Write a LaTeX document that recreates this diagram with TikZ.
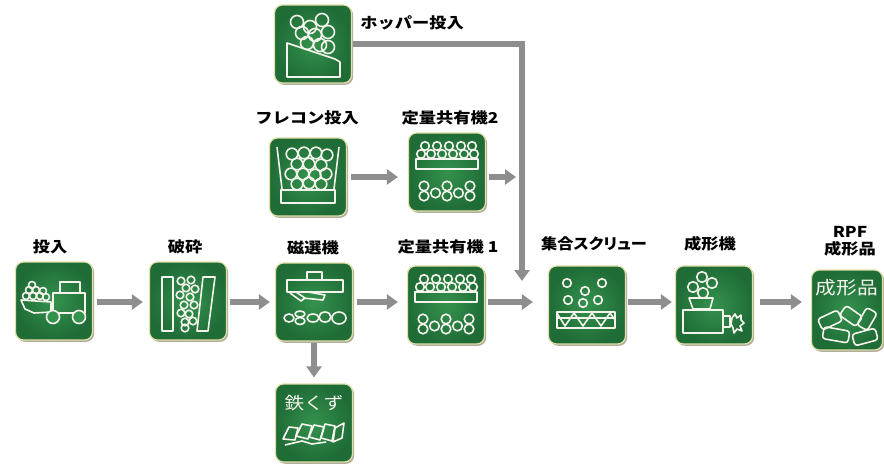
\documentclass[tikz,border=0pt]{standalone}
\usepackage{fontspec}
\usetikzlibrary{arrows.meta}
\newfontfamily\jpfont[FakeStretch=1.15]{Noto Sans CJK JP}
\newfontfamily\jpprop[FakeStretch=1.08, RawFeature=+palt]{Noto Sans CJK JP}

\definecolor{flowgray}{HTML}{8E8E8E}
\definecolor{panelin}{HTML}{34924D}
\definecolor{panelout}{HTML}{1F6C37}
\definecolor{panelrim}{HTML}{E2DFA8}
\definecolor{panelshade}{HTML}{6E6A4A}
\definecolor{inkwhite}{HTML}{F4F4EC}

\tikzset{
  panel/.style={rounded corners=8pt, inner sep=0pt,
    inner color=panelin, outer color=panelout,
    draw=panelrim, line width=1.2pt,
    minimum width=77pt, minimum height=78pt,
    preaction={fill=panelshade, opacity=0.55,
      transform canvas={shift={(1.6pt,-1.8pt)}}}},
  lbl/.style={font=\jpfont\bfseries\fontsize{15}{16}\selectfont, inner sep=0pt},
  intext/.style={font=\jpfont\fontsize{17}{18}\selectfont, text=inkwhite, inner sep=0pt},
  ink/.style={draw=inkwhite, line width=1.6pt, line join=round},
  flow/.style={draw=flowgray, line width=5.5pt,
    -{Triangle[width=15pt,length=11pt]}, shorten <=4pt, shorten >=6pt},
}

\begin{document}
\begin{tikzpicture}[x=1pt,y=-1pt]
\useasboundingbox[fill=white] (0,0) rectangle (884,464);

% ---------- panels ----------
\node[panel] (feed)  at (54,301)  {};
\node[panel] (crush) at (188,301) {};
\node[panel] (mag)   at (314,302) {};
\node[panel] (qa)    at (446,305) {};
\node[panel] (screw) at (587,305) {};
\node[panel] (mold)  at (714,305) {};
\node[panel, minimum width=71pt, minimum height=80pt] (rpf) at (847,310) {};
\node[panel] (scrap) at (314,423) {};
\node[panel] (hop)   at (313,44)  {};
\node[panel] (flc)   at (308,177) {};
\node[panel] (qb)    at (447,172) {};

% ---------- labels ----------
\node[lbl] (feed-l)  at (50,247)  {投入};
\node[lbl] (crush-l) at (185,247) {破砕};
\node[lbl] (mag-l)   at (313,248) {磁選機};
\node[lbl] (qa-l)    at (448,247) {定量共有機 1};
\node[lbl, font=\jpprop\bfseries\fontsize{15}{16}\selectfont] (screw-l) at (594,244) {集合スクリュー};
\node[lbl] (mold-l)  at (710,244) {成形機};
\node[lbl] (rpf-l1)  at (850,232) {RPF};
\node[lbl] (rpf-l2)  at (850,249) {成形品};
\node[lbl] (hop-l)   at (412,23)  {ホッパー投入};
\node[lbl] (flc-l)   at (307,118) {フレコン投入};
\node[lbl] (qb-l)    at (450,118) {定量共有機2};

% ---------- connectors ----------
\coordinate (row)   at (0,302);
\coordinate (stub)  at (516,177);
\coordinate (merge) at (522,281);
\draw[flow] (feed.east |- row) -- (crush.west |- row);
\draw[flow, shorten <=3pt, shorten >=5pt] (crush.east |- row) -- (mag.west |- row);
\draw[flow, shorten >=9pt] (mag.east |- row) -- (qa.west |- row);
\draw[flow, shorten <=3pt, shorten >=15pt] (qa.east |- row) -- (screw.west |- row);
\draw[flow, shorten <=2pt, shorten >=3pt] (screw.east |- row) -- (mold.west |- row);
\draw[flow, shorten <=7pt, shorten >=9pt] (mold.east |- row) -- (rpf.west |- row);
\draw[flow, shorten <=1pt] (mag) -- (scrap);
\draw[flow, shorten >=10pt] (flc.east |- 0,177) -- (qb.west |- 0,177);
\draw[flow, shorten <=3pt, shorten >=0pt] (qb.east |- stub) -- (stub);
\draw[flow, shorten <=1pt, shorten >=0pt] (hop.east) -| (merge);

% ---------- icons ----------
% loader
\begin{scope}[shift={(feed.center)}, ink]
  \draw (6,-19) rectangle (26,-8);
  \draw (-1,-8) rectangle (31,12);
  \draw (-33,-1) -- (-29,8) -- (-20,12) -- (-3,11) -- (-3,1) -- cycle;
  \draw (-3,5) -- (-1,5);
  \foreach \p in {(-28,-5),(-21,-5),(-14,-5),(-8,-4),(-25,-11),(-18,-11),(-11,-10),(-22,-16)}
    \draw \p circle (3.5);
  \draw[fill=panelin] (-1,16) circle (6.5);
  \draw[fill=panelin] (25,16) circle (6.5);
\end{scope}

% crusher
\begin{scope}[shift={(crush.center)}, ink]
  \draw (-26,-24) rectangle (-15,30);
  \draw (15,-24) -- (27,-24) -- (20,30) -- (9,30) -- cycle;
  \foreach \p in {(-7,-20),(3,-21),(-2,-13),(7,-12),(-8,-6),(2,-4),(-4,4),(6,4),(-7,12),(1,13),(-3,21),(5,20),(-3,27)}
    \draw \p circle (3.8);
\end{scope}

% magnetic separator
\begin{scope}[shift={(mag.center)}, ink]
  \draw (-7,-30) rectangle (8,-22);
  \draw (-27,-22) rectangle (29,-10);
  \draw (-24,-9) -- (-13,-1) -- (-9,-4) -- (-18,-10);
  \draw (-11,-4) -- (9,-2) -- (11,-7) -- (-6,-10);
  \draw (-25,16) ellipse (5 and 4);
  \draw (-14,12) ellipse (5 and 3);
  \draw (-14,19) ellipse (5 and 3.5);
  \draw (-1,16) ellipse (6 and 4);
  \draw (11,15) ellipse (6 and 5);
  \draw (25,16) ellipse (7 and 6);
\end{scope}

% metering feeders 1 and 2
\foreach \q in {qa,qb}{
\begin{scope}[shift={(\q.center)}, ink]
  \foreach \x in {-22,-10,2,14,25} \draw (\x,-26) circle (4.3);
  \foreach \x in {-26,-16,-5,6,17,27} \draw (\x,-18) circle (4.3);
  \draw (-31,-13) rectangle (31,-3);
  \foreach \x in {-23,0,23} {\draw (\x,14) circle (4.8); \draw (\x,24) circle (4.8);}
  \foreach \x in {-11.5,11.5} \draw (\x,21) circle (4.8);
\end{scope}}

% flexible container
\begin{scope}[shift={(flc.center)}, ink]
  \draw (-31,-30) -- (-26,12);
  \draw (31,-30) -- (26,12);
  \draw (-27,13) rectangle (27,26);
  \foreach \p in {(-16,-23),(-4,-24),(8,-24),(19,-22),(-11,-13),(1,-13),(13,-12),(-17,-3),(-5,-3),(7,-2),(18,-3),(-11,7),(1,6),(13,7)}
    \draw \p circle (5.8);
\end{scope}

% hopper
\begin{scope}[shift={(hop.center)}, ink]
  \draw (-26,-1) -- (22,15) -- (27,18) -- (27,33) -- (-26,33) -- cycle;
  \foreach \p in {(-16,-22),(-3,-17),(9,-24),(-11,-11),(2,-9),(15,-12),(-6,-1),(7,1),(15,3)}
    \draw \p circle (6.5);
\end{scope}

% iron scrap
\node[intext] (scrap-t) at ([yshift=20pt]scrap.center) {鉄くず};
\begin{scope}[shift={(scrap.center)}, ink]
  \draw (-31,16) -- (-25,4) -- (-16,5) -- (-19,17) -- cycle;
  \draw (-18,13) -- (-12,1) -- (-2,3) -- (-6,16) -- cycle;
  \draw (-5,14) -- (0,2) -- (10,4) -- (6,17) -- cycle;
  \draw (7,15) -- (11,1) -- (21,3) -- (18,18) -- cycle;
  \draw (19,19) -- (21,5) -- (30,0) -- (28,15) -- cycle;
  \draw (-29,22) -- (-12,18) -- (-2,21) -- (12,19);
\end{scope}

% collecting screw
\begin{scope}[shift={(screw.center)}, ink]
  \foreach \p in {(-20,-22),(15,-22),(-2,-14),(-19,-5),(11,-5),(-4,-2)}
    \draw \p circle (4.3);
  \draw (-30,7) rectangle (28,23);
  \draw (-30,13) -- (28,13);
  \draw (-30,8) -- (-22,21) -- (-13,8) -- (-4,21) -- (5,8) -- (14,21) -- (23,8) -- (28,15);
\end{scope}

% moulding machine
\begin{scope}[shift={(mold.center)}, ink]
  \foreach \p in {(-12,-28),(-21,-18),(-2,-22),(-11,-12)}
    \draw \p circle (5.3);
  \draw (-25,-7) -- (-1,-7) -- (-4,4) -- (-21,4) -- cycle;
  \draw (-31,5) rectangle (9,28);
  \draw (9,11) rectangle (16,22);
  \draw (18,13) -- (21,9) -- (23,13) -- (27,10) -- (27,15) -- (30,18) -- (26,21)
        -- (28,26) -- (23,24) -- (20,28) -- (19,23) -- (17,19) -- cycle;
\end{scope}

% RPF pellets
\node[intext, font=\jpfont\fontsize{18}{18}\selectfont] (rpf-t) at ([yshift=22pt]rpf.center) {成形品};
\begin{scope}[shift={(rpf.center)}, ink]
  \draw[rotate around={25:(-17,10)}, rounded corners=3pt] (-28,4) rectangle (-6,16);
  \draw[rotate around={-35:(4,6)}, rounded corners=3pt] (-6,0) rectangle (14,12);
  \draw[rotate around={60:(20,9)}, rounded corners=3pt] (10,3) rectangle (30,15);
  \draw[rotate around={-10:(-10,25)}, rounded corners=3pt] (-24,19) rectangle (2,31);
  \draw[rotate around={15:(18,27)}, rounded corners=3pt] (6,21) rectangle (30,33);
\end{scope}
\end{tikzpicture}
\end{document}
